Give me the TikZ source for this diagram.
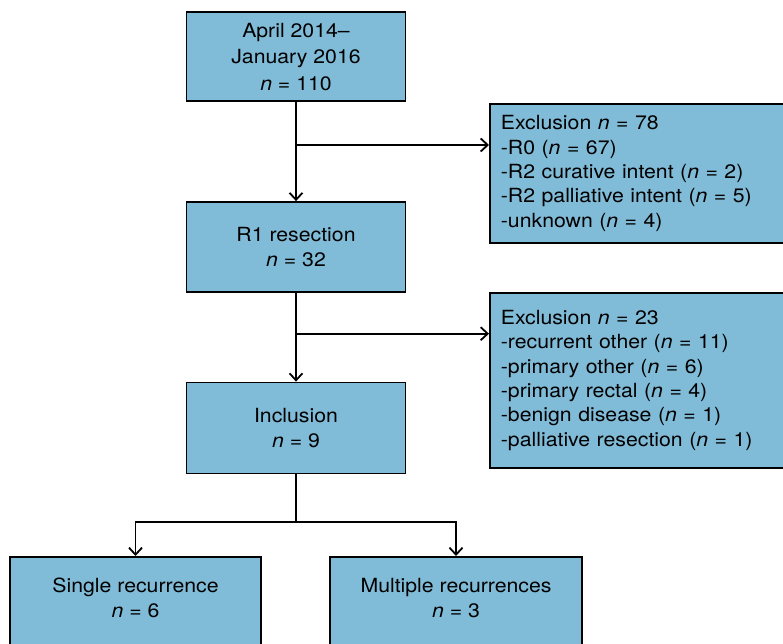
\documentclass[tikz,border=0pt]{standalone}
\usepackage{fontspec}
\setmainfont{TeX Gyre Heros}[FakeStretch=1.09]
\usetikzlibrary{arrows.meta}
\definecolor{boxblue}{RGB}{128,187,215}
\newcommand{\nn}[1]{\textit{n} = #1}
\begin{document}
\begin{tikzpicture}[x=1pt,y=-1pt,
  box/.style={draw=black, line width=1.8pt, fill=boxblue, align=center,
    font=\fontsize{19.5}{25}\selectfont, inner sep=0pt},
  exclbox/.style={draw=black, line width=1.8pt, fill=boxblue, align=left,
    font=\fontsize{19.5}{24.4}\selectfont, text width=300pt, inner xsep=11pt,
    inner ysep=0pt, anchor=north west},
  link/.style={line width=1.8pt},
  conn/.style={line width=1.8pt, -{Straight Barb[length=7pt,width=13pt,line width=1.8pt]}}]
\useasboundingbox (0,0) rectangle (783,644);
\clip (0,0) rectangle (783,644);

\node[box, minimum width=219pt, minimum height=89pt, font=\fontsize{19.5}{26.5}\selectfont]
  (start) at (296,56.7) {April 2014--\\January 2016\\\nn{110}};
\node[box, minimum width=219pt, minimum height=90pt] (r1) at (296,247) {R1 resection\\\nn{32}};
\node[box, minimum width=219pt, minimum height=91pt] (incl) at (296,428) {Inclusion\\\nn{9}};

\node[exclbox, minimum height=139pt] (ex1) at (489,103)
  {Exclusion \nn{78}\\-R0 (\nn{67})\\-R2 curative intent (\nn{2})\\-R2 palliative intent (\nn{5})\\-unknown (\nn{4})};
\node[exclbox, minimum height=175pt] (ex2) at (489,292)
  {Exclusion \nn{23}\\-recurrent other (\nn{11})\\-primary other (\nn{6})\\-primary rectal (\nn{4})\\-benign disease (\nn{1})\\-palliative resection (\nn{1})};

\node[box, minimum width=251pt, minimum height=92pt, anchor=north] (single) at (135.5,556)
  {\raisebox{3pt}[\height][\depth]{\begin{tabular}{@{}c@{}}Single recurrence\\\nn{6}\end{tabular}}};
\node[box, minimum width=252pt, minimum height=92pt, anchor=north] (multi) at (456,556)
  {\raisebox{3pt}[\height][\depth]{\begin{tabular}{@{}c@{}}Multiple recurrences\\\nn{3}\end{tabular}}};

\coordinate (b1) at (296,145);
\coordinate (b2) at (296,333.7);
\coordinate (split) at (296,521.7);

\draw[conn] (start) -- (r1);
\draw[conn] (b1) -- (b1 -| ex1.west);
\draw[conn] (r1) -- (incl);
\draw[conn] (b2) -- (b2 -| ex2.west);
\draw[link] (incl.south) -- (split);
\draw[conn] (split) -| (single.north);
\draw[conn] (split) -| (multi.north);
\end{tikzpicture}
\end{document}
